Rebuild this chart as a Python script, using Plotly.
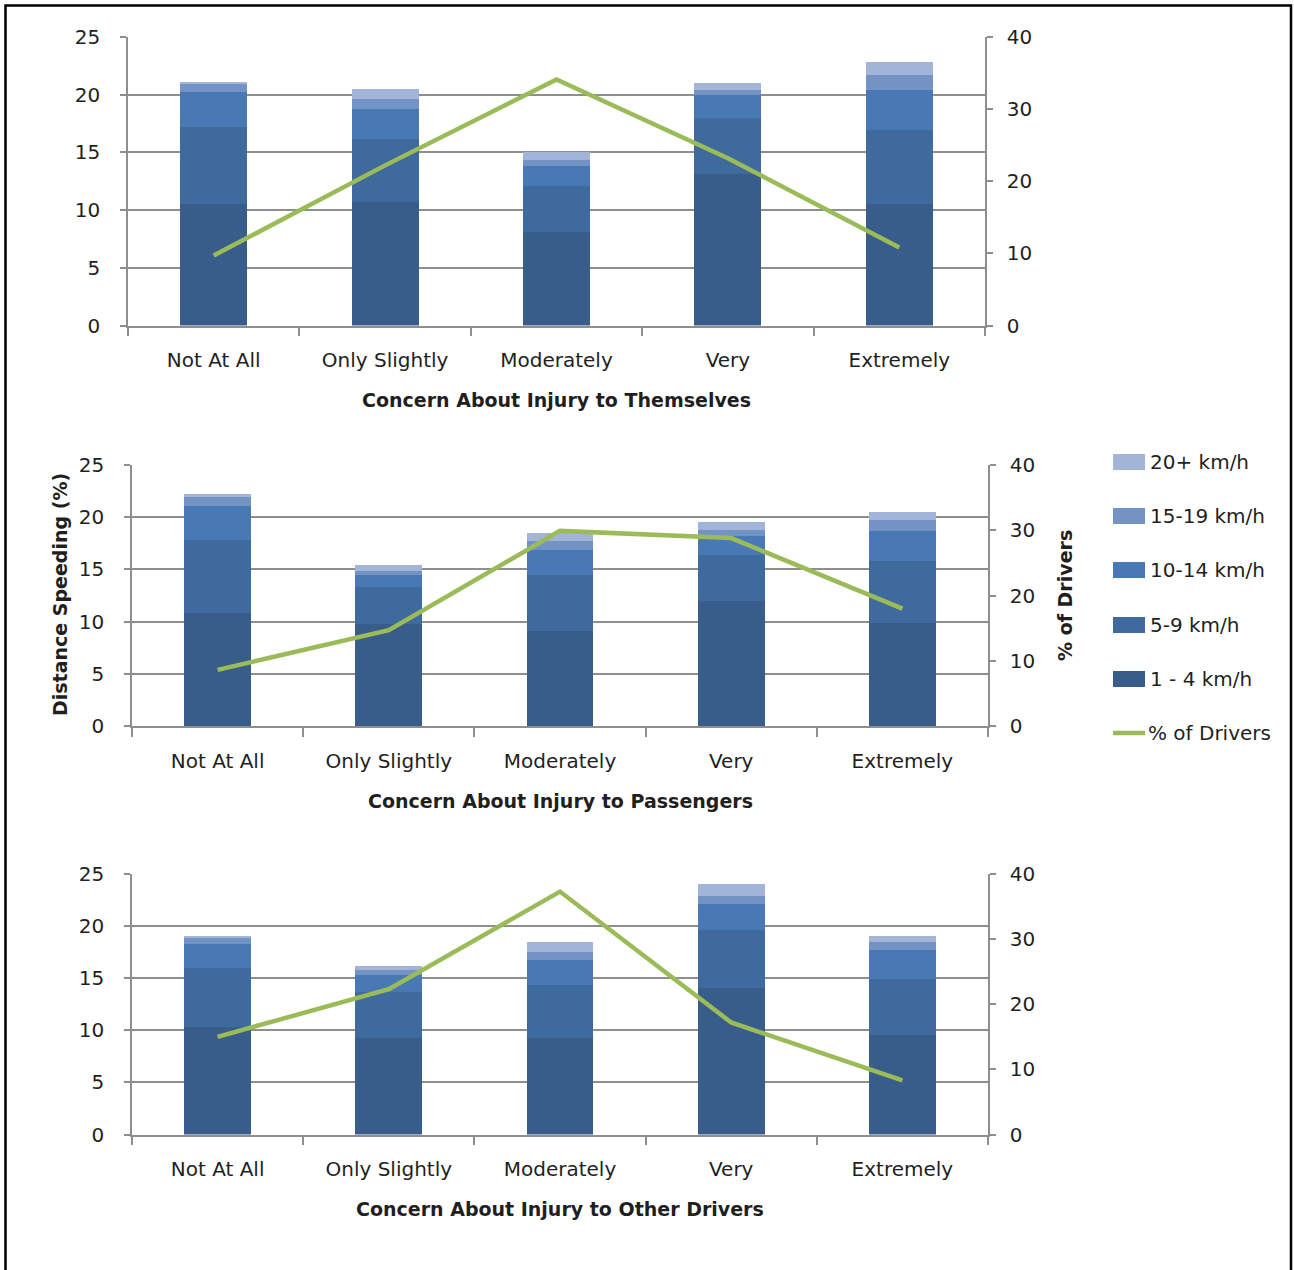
import plotly.graph_objects as go
from plotly.subplots import make_subplots

# Concern categories shared by all three panels
categories = ["Not At All", "Only Slightly", "Moderately", "Very", "Extremely"]

# Distance speeding bands (stacked, bottom to top)
bands = ["1 - 4 km/h", "5-9 km/h", "10-14 km/h", "15-19 km/h", "20+ km/h"]
band_colors = ["#385D8A", "#3F6A9E", "#4879B4", "#7393C5", "#A2B5D8"]
drivers_label = "% of Drivers"

# Panel 1: concern about injury to themselves (% of drivers speeding by band)
themselves_1_4 = [10.5, 10.7, 8.1, 13.1, 10.5]
themselves_5_9 = [6.7, 5.5, 4.0, 4.85, 6.4]
themselves_10_14 = [3.0, 2.6, 1.7, 2.0, 3.55]
themselves_15_19 = [0.7, 0.8, 0.55, 0.5, 1.25]
themselves_20 = [0.2, 0.9, 0.65, 0.55, 1.15]
themselves_drivers = [9.7, 22.2, 34.1, 23.2, 10.8]

# Panel 2: concern about injury to passengers
passengers_1_4 = [10.85, 9.75, 9.1, 12.0, 9.9]
passengers_5_9 = [7.0, 3.6, 5.35, 4.35, 5.9]
passengers_10_14 = [3.2, 1.1, 2.45, 1.85, 2.85]
passengers_15_19 = [0.85, 0.4, 0.8, 0.6, 1.05]
passengers_20 = [0.35, 0.55, 0.75, 0.75, 0.8]
passengers_drivers = [8.6, 14.7, 29.9, 28.8, 18.0]

# Panel 3: concern about injury to other drivers
others_1_4 = [10.3, 9.3, 9.3, 14.1, 9.55]
others_5_9 = [5.7, 4.4, 5.0, 5.5, 5.35]
others_10_14 = [2.3, 1.6, 2.4, 2.5, 2.8]
others_15_19 = [0.55, 0.5, 0.8, 0.8, 0.8]
others_20 = [0.2, 0.4, 0.95, 1.1, 0.55]
others_drivers = [15.0, 22.3, 37.3, 17.2, 8.3]

panels = [
    ("Concern About Injury to Themselves",
     [themselves_1_4, themselves_5_9, themselves_10_14, themselves_15_19, themselves_20],
     themselves_drivers),
    ("Concern About Injury to Passengers",
     [passengers_1_4, passengers_5_9, passengers_10_14, passengers_15_19, passengers_20],
     passengers_drivers),
    ("Concern About Injury to Other Drivers",
     [others_1_4, others_5_9, others_10_14, others_15_19, others_20],
     others_drivers),
]

W, H = 1294, 1270
FONT = "DejaVu Sans"
FS = 20
TEXT = "#1F1F1F"
GRID = "#8E8E8E"
LINE_GREEN = "#9BBB59"

# pixel boxes of each plot area: (left, right, top, bottom)
boxes = [(128, 985, 37, 325.5), (132, 988, 465, 726), (132, 988, 874, 1134.5)]
title_y = [400, 801, 1209]


def px(x, y):
    return x / W, 1 - y / H


fig = make_subplots(rows=3, cols=1, specs=[[{"secondary_y": True}]] * 3)

for i, (title, stacks, drivers) in enumerate(panels):
    row = i + 1
    fig.add_trace(
        go.Scatter(x=categories, y=drivers, mode="lines", name=drivers_label,
                   line=dict(color=LINE_GREEN, width=4.5), showlegend=False,
                   hoverinfo="skip"),
        row=row, col=1, secondary_y=True)
    for band, color, vals in zip(bands, band_colors, stacks):
        fig.add_trace(
            go.Bar(x=categories, y=vals, name=band,
                   marker=dict(color=color, line=dict(width=0)), showlegend=False),
            row=row, col=1, secondary_y=False)

axis_common = dict(showline=True, linecolor=GRID, linewidth=1.5, ticks="outside",
                   tickcolor=GRID, tickwidth=1.5, automargin=False,
                   tickfont=dict(family=FONT, size=FS, color=TEXT))

for i, (l, r, t, b) in enumerate(boxes):
    xd = [l / W, r / W]
    yd = [1 - b / H, 1 - t / H]
    xn = "xaxis" if i == 0 else f"xaxis{i + 1}"
    yl = "yaxis" if i == 0 else f"yaxis{2 * i + 1}"
    yr = f"yaxis{2 * i + 2}"
    fig.layout[xn].update(domain=xd, type="category", tickson="boundaries", ticklen=9,
                          showgrid=False, ticklabelstandoff=16, **axis_common)
    fig.layout[yl].update(domain=yd, range=[0, 25], dtick=5, ticklen=6, showgrid=True,
                          gridcolor=GRID, gridwidth=1.5, zeroline=False,
                          ticklabelstandoff=16, **axis_common)
    fig.layout[yr].update(domain=yd, range=[0, 40], dtick=10, ticklen=6, showgrid=False,
                          zeroline=False, ticklabelstandoff=10, **axis_common)
    tx, ty = px((l + r) / 2, title_y[i])
    fig.add_annotation(text=f"<b>{panels[i][0]}</b>", x=tx, y=ty, xanchor="center",
                       yanchor="middle", xref="paper", yref="paper", showarrow=False,
                       font=dict(family=FONT, size=19, color=TEXT))

ax_, ay_ = px(60, 595)
fig.add_annotation(text="<b>Distance Speeding (%)</b>", x=ax_, y=ay_, xanchor="center",
                   yanchor="middle", xref="paper", yref="paper", showarrow=False,
                   textangle=-90, font=dict(family=FONT, size=19, color=TEXT))
ax_, ay_ = px(1065, 596)
fig.add_annotation(text="<b>% of Drivers</b>", x=ax_, y=ay_, xanchor="center",
                   yanchor="middle", xref="paper", yref="paper", showarrow=False,
                   textangle=-90, font=dict(family=FONT, size=19, color=TEXT))

# legend: speed bands from fastest (top) to slowest, then the drivers line
legend_rows = [462, 516, 570, 625, 679]
for band, color, yc in zip(reversed(bands), reversed(band_colors), legend_rows):
    x0, y0 = px(1113, yc - 8)
    x1, y1 = px(1145, yc + 8)
    fig.add_shape(type="rect", xref="paper", yref="paper", x0=x0, x1=x1, y0=y1, y1=y0,
                  fillcolor=color, line=dict(width=0))
    lx, ly = px(1148, yc)
    fig.add_annotation(text=band, x=lx, y=ly, xanchor="left", yanchor="middle",
                       xref="paper", yref="paper", showarrow=False,
                       font=dict(family=FONT, size=FS, color=TEXT))
x0, yl_ = px(1113, 733)
x1, _ = px(1145, 733)
fig.add_shape(type="line", xref="paper", yref="paper", x0=x0, x1=x1, y0=yl_, y1=yl_,
              line=dict(color=LINE_GREEN, width=4.5))
lx, ly = px(1146, 733)
fig.add_annotation(text=drivers_label, x=lx, y=ly, xanchor="left", yanchor="middle",
                   xref="paper", yref="paper", showarrow=False,
                   font=dict(family=FONT, size=FS, color=TEXT))

# outer frame
fx0, fy1 = px(5.5, 5.5)
fx1, _ = px(1291, 0)
fig.add_shape(type="rect", xref="paper", yref="paper", x0=fx0, x1=fx1,
              y0=-0.02, y1=fy1, line=dict(color="#000000", width=2.5))

fig.update_layout(
    width=W, height=H,
    margin=dict(l=0, r=0, t=0, b=0, autoexpand=False),
    paper_bgcolor="white", plot_bgcolor="white",
    barmode="stack", bargap=0.61,
    font=dict(family=FONT, size=FS, color=TEXT),
    showlegend=False,
    hovermode=False,
)

fig.write_html("out.html")
